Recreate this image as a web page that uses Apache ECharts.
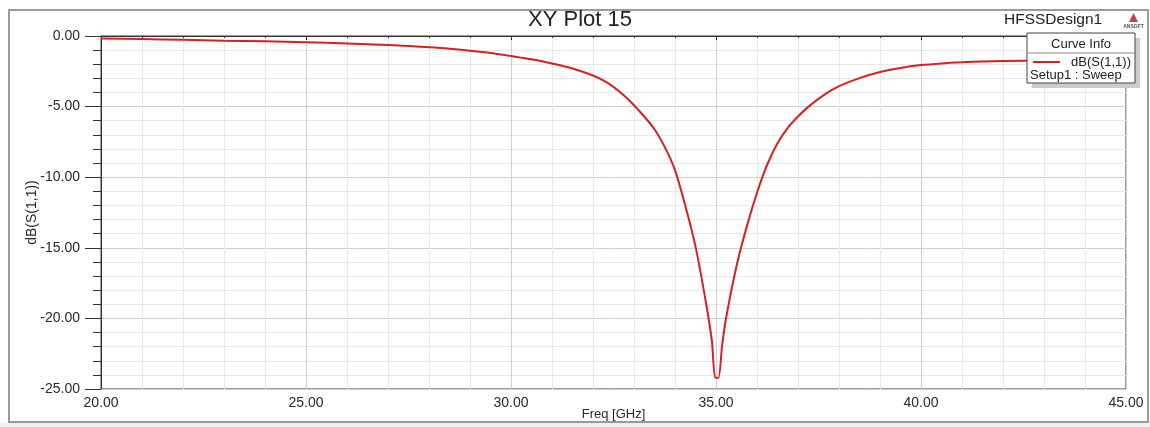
<!DOCTYPE html>
<html>
<head>
<meta charset="utf-8">
<style>
  html, body { margin: 0; padding: 0; background: #ffffff; }
  #chart { width: 1150px; height: 427px; }
</style>
<script src="https://cdn.jsdelivr.net/npm/echarts@6/dist/echarts.min.js"></script>
</head>
<body>
<div id="chart"></div>
<script>
// Swept return loss of the HFSS design, dB(S(1,1)) versus frequency
var freqGHz = [
  20, 21, 22, 23, 24, 25, 26, 27, 28, 28.5, 29, 29.5,
  30, 30.5, 31, 31.5, 32, 32.25, 32.5, 32.75, 33, 33.25, 33.5, 33.75,
  34, 34.25, 34.5, 34.75, 34.9, 34.98, 35.06, 35.15, 35.25, 35.5, 35.75,
  36, 36.25, 36.5, 36.75, 37, 37.25, 37.5, 37.75, 38, 38.5, 39, 39.5,
  40, 40.5, 41, 41.5, 42, 43, 44, 45
];
var s11dB = [
  -0.18, -0.22, -0.27, -0.33, -0.38, -0.44, -0.53, -0.64, -0.80, -0.90, -1.04, -1.20,
  -1.42, -1.65, -1.95, -2.30, -2.80, -3.15, -3.60, -4.20, -4.90, -5.70, -6.60, -7.85,
  -9.50, -12.00, -14.90, -18.80, -21.60, -24.20, -24.20, -21.90, -19.90, -16.30, -13.50,
  -11.10, -9.10, -7.60, -6.50, -5.70, -5.02, -4.45, -3.96, -3.55, -2.98, -2.55, -2.26,
  -2.06, -1.94, -1.86, -1.80, -1.77, -1.72, -1.68, -1.65
];

var plotTitle = 'XY Plot 15';
var designName = 'HFSSDesign1';
var xAxisName = 'Freq [GHz]';
var yAxisName = 'dB(S(1,1))';
var curveName = 'dB(S(1,1))';
var curveSetup = 'Setup1 : Sweep';

var FONT = '"Liberation Sans", Arial, sans-serif';
var CURVE_COLOR = '#d82020';
var TEXT_COLOR = '#2a2a2a';

var points = freqGHz.map(function (f, i) { return [f, s11dB[i]]; });

var chart = echarts.init(document.getElementById('chart'), null, { renderer: 'canvas' });

chart.setOption({
  backgroundColor: '#ffffff',
  animation: false,
  textStyle: { fontFamily: FONT },
  grid: {
    left: 101, top: 36, width: 1025, height: 353,
    containLabel: false,
    outerBoundsMode: 'none',
    show: true, borderColor: '#3a3a3a', borderWidth: 1, backgroundColor: 'transparent'
  },
  xAxis: {
    type: 'value',
    min: 20, max: 45, interval: 5,
    name: xAxisName,
    nameLocation: 'middle',
    nameGap: 19,
    nameMoveOverlap: false,
    nameTextStyle: { fontFamily: FONT, fontSize: 13, color: TEXT_COLOR },
    axisLine: { show: true, lineStyle: { color: '#333', width: 1 } },
    axisTick: { show: true, length: 4, lineStyle: { color: '#333' } },
    minorTick: { show: true, splitNumber: 5, length: 2, lineStyle: { color: '#333' } },
    axisLabel: {
      margin: 7, fontFamily: FONT, fontSize: 14, color: TEXT_COLOR,
      formatter: function (v) { return v.toFixed(2); }
    },
    splitLine: { show: true, lineStyle: { color: '#cfcfcf', width: 1 } },
    minorSplitLine: { show: true, lineStyle: { color: '#e8e8e8', width: 1 } }
  },
  yAxis: {
    type: 'value',
    min: -25, max: 0, interval: 5,
    name: yAxisName,
    nameLocation: 'middle',
    nameGap: 62,
    nameMoveOverlap: false,
    nameRotate: 90,
    nameTextStyle: { fontFamily: FONT, fontSize: 14, color: TEXT_COLOR },
    axisLine: { show: true, lineStyle: { color: '#333', width: 1 } },
    axisTick: { show: true, length: 16, lineStyle: { color: '#333' } },
    minorTick: { show: true, splitNumber: 5, length: 8, lineStyle: { color: '#333' } },
    axisLabel: {
      margin: 21, fontFamily: FONT, fontSize: 14, color: TEXT_COLOR,
      formatter: function (v) { return v.toFixed(2); }
    },
    splitLine: { show: true, lineStyle: { color: '#cfcfcf', width: 1 } },
    minorSplitLine: { show: true, lineStyle: { color: '#e8e8e8', width: 1 } }
  },
  series: [{
    name: curveName,
    type: 'line',
    data: points,
    showSymbol: false,
    smooth: 0.25,
    lineStyle: { color: CURVE_COLOR, width: 2 },
    z: 3
  }],
  graphic: [
    // outer frame of the plot window
    {
      type: 'rect', z: -10, silent: true,
      shape: { x: 9, y: 10, width: 1139, height: 412 },
      style: { fill: 'none', stroke: '#9a9a9a', lineWidth: 2 }
    },
    {
      type: 'rect', z: -10, silent: true,
      shape: { x: 0, y: 423, width: 1150, height: 4 },
      style: { fill: '#efefef' }
    },
    // title and design name
    {
      type: 'text', silent: true,
      style: { text: plotTitle, x: 580, y: 20, textAlign: 'center',
               textVerticalAlign: 'middle', font: '22px ' + FONT, fill: '#222' }
    },
    {
      type: 'text', silent: true,
      style: { text: designName, x: 1004, y: 20, textVerticalAlign: 'middle',
               font: '15.5px ' + FONT, fill: '#222' }
    },
    // small company mark in the corner
    {
      type: 'polygon', silent: true,
      shape: { points: [[1129, 22], [1133.5, 13], [1138, 22]] },
      style: { fill: '#c84040' }
    },
    {
      type: 'text', silent: true,
      style: { text: 'ANSOFT', x: 1133.5, y: 27, textAlign: 'center',
               textVerticalAlign: 'middle', font: 'bold 5px ' + FONT, fill: '#555' }
    },
    // curve info box with drop shadow
    {
      type: 'rect', silent: true, z: 10,
      shape: { x: 1032, y: 38, width: 108, height: 50 },
      style: { fill: '#cccccc' }
    },
    {
      type: 'rect', silent: true, z: 11,
      shape: { x: 1027, y: 33, width: 108, height: 50 },
      style: { fill: '#ffffff', stroke: '#444', lineWidth: 1 }
    },
    {
      type: 'line', silent: true, z: 12,
      shape: { x1: 1027, y1: 53, x2: 1135, y2: 53 },
      style: { stroke: '#888', lineWidth: 1 }
    },
    {
      type: 'text', silent: true, z: 12,
      style: { text: 'Curve Info', x: 1081, y: 44, textAlign: 'center',
               textVerticalAlign: 'middle', font: '13px ' + FONT, fill: '#222' }
    },
    {
      type: 'line', silent: true, z: 12,
      shape: { x1: 1033, y1: 62, x2: 1060, y2: 62 },
      style: { stroke: CURVE_COLOR, lineWidth: 2 }
    },
    {
      type: 'text', silent: true, z: 12,
      style: { text: curveName, x: 1131, y: 62, textAlign: 'right',
               textVerticalAlign: 'middle', font: '13px ' + FONT, fill: '#222' }
    },
    {
      type: 'text', silent: true, z: 12,
      style: { text: curveSetup, x: 1030, y: 75, textAlign: 'left',
               textVerticalAlign: 'middle', font: '13px ' + FONT, fill: '#222' }
    }
  ]
});
</script>
</body>
</html>
